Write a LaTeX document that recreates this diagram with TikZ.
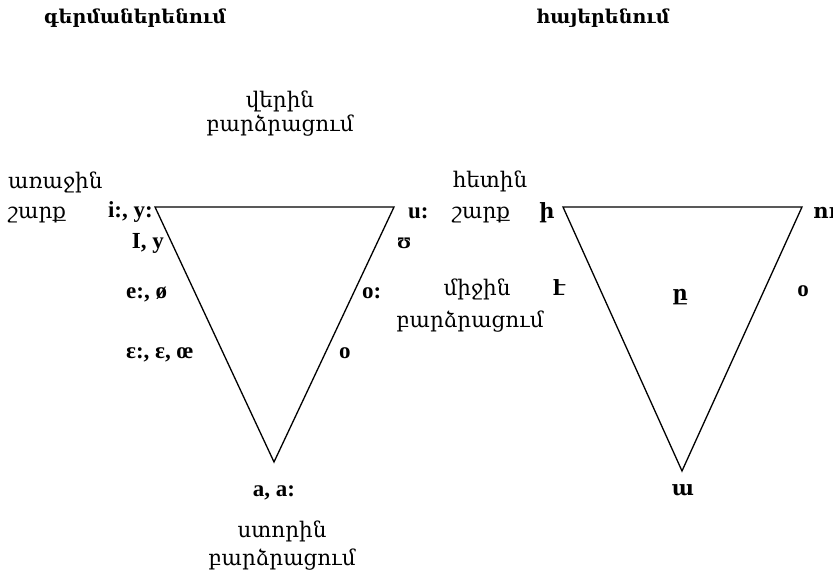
\documentclass[tikz,border=0pt]{standalone}
\usepackage{fontspec}
\setmainfont{Liberation Serif}
\newfontfamily\arm{DejaVu Serif}
\begin{document}
\begin{tikzpicture}[x=1pt,y=-1pt,
  arm/.style={font=\arm\fontsize{21.5}{24}\selectfont, inner sep=0pt, anchor=mid},
  armb/.style={font=\arm\bfseries\fontsize{21}{24}\selectfont, inner sep=0pt, anchor=mid},
  ttl/.style={font=\arm\bfseries\fontsize{19}{22}\selectfont, inner sep=0pt, anchor=mid},
  lat/.style={font=\bfseries\fontsize{23}{26}\selectfont, inner sep=0pt, anchor=mid},
  tri/.style={line width=1.3pt, line join=miter}]
\useasboundingbox (0,0) rectangle (833,580);
% left triangle
\coordinate (L1) at (155,207);
\coordinate (L2) at (394,207);
\coordinate (L3) at (274,462);
\draw[tri] (L1) -- (L2) -- (L3) -- cycle;
% right triangle
\coordinate (R1) at (563,207);
\coordinate (R2) at (802,207);
\coordinate (R3) at (682,471);
\draw[tri] (R1) -- (R2) -- (R3) -- cycle;
% titles
\node[ttl] (t1) at (135,21) {գերմաներենում};
\node[ttl] (t2) at (603,21) {հայերենում};
% left diagram labels
\node[arm] (up1) at (280,105) {վերին};
\node[arm] (up2) at (280,129) {բարձրացում};
\node[arm, anchor=mid west] (fr1) at (8,186) {առաջին};
\node[arm, anchor=mid west] (fr2) at (8,216) {շարք};
\node[lat, anchor=mid east] (iy) at (153,215) {i:, y:};
\node[lat, anchor=mid east] (Iy) at (164,246) {I, y};
\node[lat, anchor=mid west] (eo) at (126,296) {e:, ø};
\node[lat, anchor=mid west] (ee) at (126,356) {ɛ:, ɛ, œ};
\node[lat, anchor=mid west] (u) at (408,216) {u:};
\node[lat, anchor=mid west] (ups) at (397,246) {ʊ};
\node[lat, anchor=mid west] (oo) at (362,296) {o:};
\node[lat, anchor=mid west] (o) at (339,356) {o};
\node[lat] (aa) at (274,494) {a, a:};
\node[arm] (lo1) at (282,535) {ստորին};
\node[arm] (lo2) at (282,563) {բարձրացում};
% right diagram labels
\node[arm] (bk1) at (490,185) {հետին};
\node[arm, anchor=mid west] (bk2) at (452,216) {շարք};
\node[armb] (hi) at (547,216) {ի};
\node[arm] (mid1) at (477,293) {միջին};
\node[arm] (mid2) at (470,325) {բարձրացում};
\node[armb] (he) at (559,293) {է};
\node[armb] (eh) at (680,298) {ը};
\node[lat] (or) at (803,294) {o};
\node[armb, anchor=mid west] (ou) at (813,216) {ու};
\node[armb] (a2) at (683,493) {ա};
\end{tikzpicture}
\end{document}
